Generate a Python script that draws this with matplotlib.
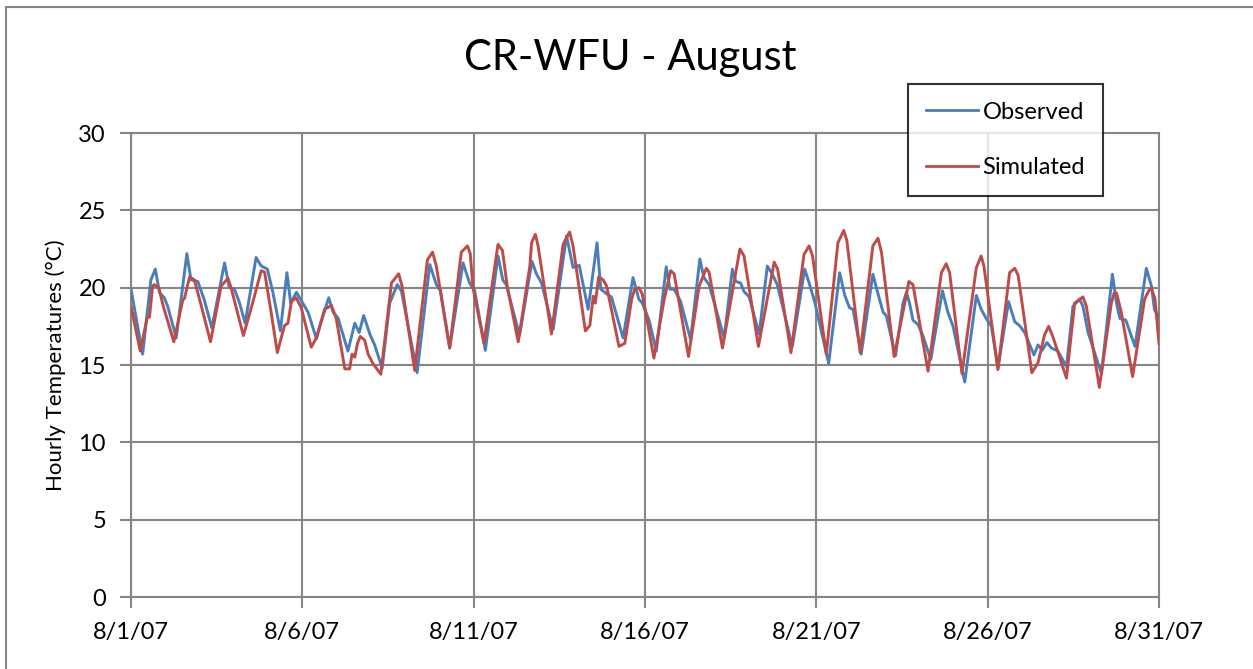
import numpy as np
import pandas as pd
import matplotlib
matplotlib.use("Agg")
import matplotlib.pyplot as plt
from matplotlib.lines import Line2D

plt.rcParams['font.family'] = ['Lato', 'DejaVu Sans']

# values: day offset from 8/1/07 00:00 and temperature (C)
obs_days = [0.0, 0.34, 0.58, 0.71, 0.83, 0.97, 1.07, 1.32, 1.63, 1.75, 1.95, 2.14, 2.36,
            2.73, 2.87, 3.02, 3.17, 3.33, 3.65, 3.80, 3.98, 4.14, 4.36, 4.55, 4.66, 4.83,
            5.17, 5.41, 5.55, 5.77, 5.90, 6.04, 6.33, 6.53, 6.66, 6.79, 6.97, 7.11, 7.33,
            7.55, 7.77, 7.89, 8.35, 8.72, 8.91, 9.03, 9.30, 9.69, 9.88, 10.03, 10.34,
            10.71, 10.85, 10.95, 11.34, 11.70, 11.83, 11.98, 12.32, 12.71, 12.90, 13.08,
            13.34, 13.60, 13.71, 13.88, 14.02, 14.36, 14.65, 14.82, 14.92, 15.12, 15.33,
            15.62, 15.73, 15.85, 16.04, 16.33, 16.60, 16.72, 16.87, 17.31, 17.55, 17.65,
            17.79, 17.89, 18.04, 18.33, 18.57, 18.72, 18.86, 19.30, 19.66, 19.79, 19.89,
            19.95, 20.36, 20.68, 20.83, 20.97, 21.07, 21.31, 21.65, 21.80, 21.95, 22.04,
            22.31, 22.53, 22.63, 22.72, 22.82, 22.97, 23.11, 23.34, 23.68, 23.84, 23.99,
            24.33, 24.67, 24.81, 24.96, 25.11, 25.30, 25.61, 25.79, 25.93, 26.08, 26.35,
            26.47, 26.59, 26.73, 26.86, 27.05, 27.30, 27.49, 27.68, 27.78, 27.93, 28.32,
            28.64, 28.76, 28.86, 29.03, 29.30, 29.63, 29.78, 29.87, 30.0]
obs_temp = [19.9, 15.7, 20.5, 21.2, 19.7, 19.35, 18.8, 16.75, 22.2, 20.5, 20.4, 19.2, 17.4,
            21.6, 20.0, 19.9, 19.0, 17.7, 21.95, 21.4, 21.2, 19.7, 17.2, 20.97, 19.0, 19.7,
            18.4, 16.7, 17.8, 19.35, 18.4, 18.05, 15.9, 17.7, 17.1, 18.2, 17.0, 16.3, 14.8,
            19.0, 20.2, 19.8, 14.5, 21.5, 20.2, 19.8, 16.1, 21.6, 20.3, 19.8, 15.95,
            22.05, 20.5, 20.2, 16.9, 21.7, 20.9, 20.3, 17.3, 23.35, 21.3, 21.45,
            18.6, 22.9, 19.9, 19.6, 19.4, 16.75, 20.65, 19.25, 19.0, 17.9, 15.9,
            21.35, 19.9, 19.9, 19.1, 16.65, 21.85, 20.65, 20.2, 16.75, 21.2, 20.4,
            20.3, 19.75, 19.4, 17.0, 21.4, 20.85, 20.2, 16.2, 21.2, 20.3, 19.55,
            19.1, 15.1, 20.97, 19.5, 18.7, 18.6, 15.7, 20.87, 19.6, 18.4, 18.2,
            15.6, 19.0, 19.7, 19.0, 17.9, 17.6, 16.9, 15.35, 19.8, 18.4, 17.5,
            13.9, 19.5, 18.6, 18.0, 17.5, 14.8, 19.1, 17.8, 17.55, 17.1, 15.65,
            16.3, 15.95, 16.45, 16.1, 15.9, 14.9, 18.8, 19.25, 18.8, 17.1, 14.45,
            20.87, 19.0, 18.0, 17.9, 16.2, 21.25, 20.1, 18.55, 18.15]

sim_days = [0.0, 0.27, 0.47, 0.54, 0.63, 0.68, 0.81, 0.93, 1.25, 1.51, 1.56, 1.71, 1.85,
            2.03, 2.32, 2.63, 2.83, 2.92, 3.28, 3.56, 3.80, 3.90, 4.09, 4.27, 4.48, 4.58,
            4.68, 4.82, 4.97, 5.26, 5.41, 5.65, 5.85, 5.99, 6.24, 6.38, 6.45, 6.53, 6.61,
            6.69, 6.82, 6.92, 7.06, 7.29, 7.60, 7.81, 7.91, 8.28, 8.65, 8.80, 8.91, 9.30,
            9.64, 9.82, 9.90, 9.98, 10.30, 10.56, 10.71, 10.84, 10.98, 11.30, 11.64, 11.69,
            11.80, 11.88, 12.27, 12.61, 12.80, 12.90, 13.26, 13.39, 13.49, 13.55, 13.65,
            13.78, 13.88, 14.24, 14.41, 14.61, 14.70, 14.82, 14.92, 15.26, 15.56, 15.75,
            15.85, 16.27, 16.58, 16.79, 16.87, 17.26, 17.77, 17.89, 18.31, 18.77, 18.87,
            19.26, 19.64, 19.79, 19.89, 20.29, 20.63, 20.80, 20.89, 21.28, 21.65, 21.80,
            21.90, 22.27, 22.58, 22.70, 22.82, 23.26, 23.65, 23.79, 23.89, 24.25, 24.67,
            24.81, 24.89, 25.30, 25.64, 25.79, 25.89, 26.29, 26.47, 26.66, 26.78, 26.90,
            27.30, 27.54, 27.78, 27.88, 28.26, 28.61, 28.69, 28.76, 28.90, 29.23, 29.58,
            29.70, 29.78, 29.88, 30.0]
sim_temp = [18.8, 15.9, 18.05, 18.1, 20.1, 20.2, 20.0, 18.9, 16.5, 19.2, 19.3, 20.7, 20.5,
            19.0, 16.5, 20.1, 20.6, 20.0, 16.9, 19.1, 21.1, 21.0, 18.4, 15.8, 17.55, 17.7,
            19.1, 19.35, 18.7, 16.15, 16.75, 18.6, 18.85, 18.0, 14.75, 14.75, 15.7, 15.5, 16.4,
            16.85, 16.6, 15.7, 15.1, 14.4, 20.3, 20.9, 20.1, 14.65, 21.8, 22.3, 21.4, 16.1,
            22.3, 22.7, 22.2, 20.0, 16.4, 20.5, 22.8, 22.4, 20.1, 16.5, 21.4, 22.9,
            23.45, 22.7, 17.0, 22.8, 23.6, 22.7, 17.2, 17.55, 19.45, 19.0, 20.7,
            20.5, 20.1, 16.2, 16.4, 19.25, 19.9, 20.0, 19.6, 15.45, 19.25, 21.1,
            20.9, 15.55, 20.1, 21.25, 21.0, 16.1, 22.5, 22.05, 16.2, 21.65, 21.2,
            15.8, 22.15, 22.7, 22.05, 15.7, 22.9, 23.7, 23.05, 15.8, 22.7, 23.2,
            22.3, 15.55, 19.0, 20.4, 20.2, 14.6, 20.97, 21.55, 20.97, 14.45, 21.3,
            22.05, 21.4, 14.7, 20.97, 21.25, 20.8, 14.5, 15.15, 16.95, 17.5, 16.85,
            14.15, 19.0, 19.4, 18.8, 13.55, 19.0, 19.65, 19.65, 18.4, 14.25, 19.25,
            19.8, 19.95, 19.3, 16.4]

tick_labels = ['8/1/07', '8/6/07', '8/11/07', '8/16/07', '8/21/07', '8/26/07', '8/31/07']
y_ticks = [0, 5, 10, 15, 20, 25, 30]

start = pd.Timestamp('2007-08-01')
obs_x = start + pd.to_timedelta(obs_days, unit='D')
sim_x = start + pd.to_timedelta(sim_days, unit='D')
tick_x = [start + pd.Timedelta(days=5 * i) for i in range(len(tick_labels))]

grid_col = '#868686'

fig = plt.figure(figsize=(12.53, 6.69), dpi=100)
ax = fig.add_axes([131 / 1253, 1 - 597 / 669, 1028 / 1253, 464 / 669])

ax.plot(obs_x, obs_temp, color='#4A7EBB', lw=2.1, label='Observed', zorder=3,
        solid_joinstyle='round')
ax.plot(sim_x, sim_temp, color='#BE4B48', lw=2.1, label='Simulated', zorder=3,
        solid_joinstyle='round')

ax.set_xlim(tick_x[0], tick_x[-1])
ax.set_ylim(0, 30)
ax.set_xticks(tick_x)
ax.set_xticklabels(tick_labels)
ax.set_yticks(y_ticks)
ax.grid(True, color=grid_col, lw=1.5)
ax.set_axisbelow(True)
for s in ax.spines.values():
    s.set_color(grid_col)
    s.set_linewidth(1.5)
ax.tick_params(axis='both', direction='out', length=8, width=1.5, color=grid_col,
               labelsize=17, pad=10)
ax.set_ylabel('Hourly Temperatures (°C)', fontsize=16, labelpad=9)

fig.text(630 / 1253, 1 - 58 / 669, 'CR-WFU - August', fontsize=30, ha='center', va='center')

leg = ax.legend(loc='upper left', bbox_to_anchor=(908 / 1253, 1 - 84 / 669),
                bbox_transform=fig.transFigure, fontsize=17, frameon=True, fancybox=False,
                borderaxespad=0, borderpad=0.75, labelspacing=1.45, handlelength=2.2,
                handletextpad=0.2)
leg.get_frame().set_edgecolor('black')
leg.get_frame().set_linewidth(1.5)
for h in leg.get_lines():
    h.set_linewidth(2.0)

# outer chart border (only left and top edges show in the picture)
fig.add_artist(Line2D([6 / 1253, 6 / 1253], [0, 1 - 7 / 669], color=grid_col, lw=1.5))
fig.add_artist(Line2D([6 / 1253, 1], [1 - 7 / 669, 1 - 7 / 669], color=grid_col, lw=1.5))

fig.savefig('out.png', dpi=100)
